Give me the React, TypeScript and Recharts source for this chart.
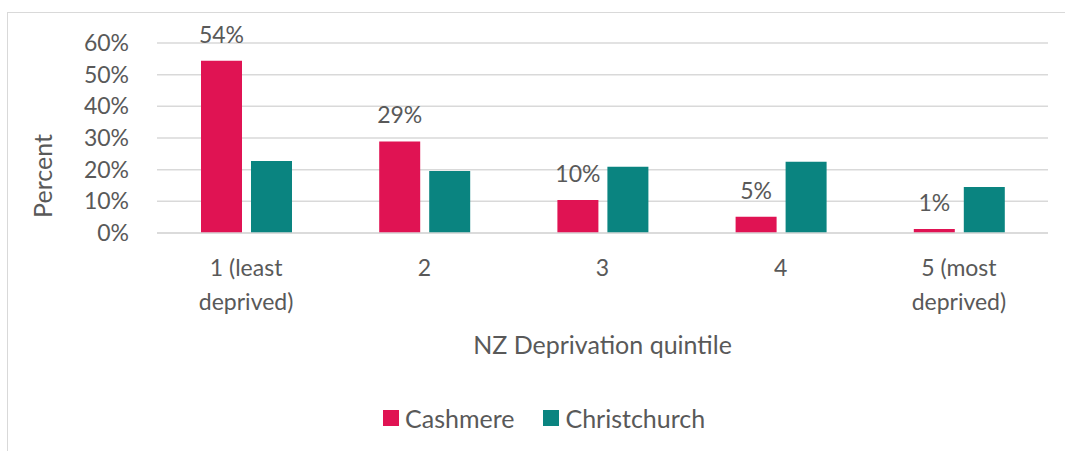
import { BarChart, Bar, XAxis, YAxis, CartesianGrid, Legend, LabelList } from 'recharts';

const quintiles = ['1 (least\ndeprived)', '2', '3', '4', '5 (most\ndeprived)'];
const cashmere = [54.4, 28.9, 10.4, 5.1, 1.3];
const christchurch = [22.7, 19.6, 20.9, 22.5, 14.5];
const yTicks = [0, 10, 20, 30, 40, 50, 60];

const seriesNames = { cashmere: 'Cashmere', christchurch: 'Christchurch' };
const colors = { cashmere: '#E01353', christchurch: '#0A8480' };

const FONT = 'Lato, "Open Sans", sans-serif';
const TEXT = '#595959';

const chartData = quintiles.map((q, i) => ({
  quintile: q,
  cashmere: cashmere[i],
  christchurch: christchurch[i],
}));

function QuintileTick(props: any) {
  const { x, y, payload } = props;
  const lines = String(payload.value).split('\n');
  return (
    <text x={x} y={y} textAnchor="middle" fill={TEXT} fontSize={23} fontFamily={FONT}>
      {lines.map((l, i) => (
        <tspan key={i} x={x} dy={i === 0 ? 43 : 34}>{l}</tspan>
      ))}
    </text>
  );
}

function LegendBox() {
  const items = [
    { name: seriesNames.cashmere, color: colors.cashmere },
    { name: seriesNames.christchurch, color: colors.christchurch },
  ];
  return (
    <div style={{ display: 'flex', alignItems: 'center', fontFamily: FONT, fontSize: 25, color: TEXT }}>
      {items.map((it, i) => (
        <div key={it.name} style={{ display: 'flex', alignItems: 'center', marginRight: i === 0 ? 29 : 0 }}>
          <span style={{ width: 16, height: 16, background: it.color, marginRight: 6, display: 'inline-block' }} />
          <span>{it.name}</span>
        </div>
      ))}
    </div>
  );
}

export default function App() {
  return (
    <div style={{ position: 'fixed', left: 0, top: 0, width: 1065, height: 451, overflow: 'hidden', background: '#fff' }}>
      <div style={{ position: 'absolute', left: 7, top: 12, width: 1200, height: 600, border: '1.5px solid #d9d9d9' }} />
      <div style={{ position: 'absolute', left: 0, top: 0 }}>
        <BarChart
          width={1065}
          height={451}
          data={chartData}
          margin={{ top: 43, right: 17, left: 0, bottom: 0 }}
          barSize={41}
          barGap={9}
        >
          <CartesianGrid vertical={false} stroke="#d9d9d9" strokeWidth={1.5} />
          <XAxis
            dataKey="quintile"
            height={218}
            interval={0}
            tickLine={false}
            tickSize={0}
            tickMargin={0}
            axisLine={{ stroke: '#d9d9d9', strokeWidth: 1.5 }}
            tick={<QuintileTick />}
            label={({ viewBox }: any) => (
              <text
                x={viewBox.x + viewBox.width / 2}
                y={viewBox.y + 121}
                textAnchor="middle"
                fill={TEXT}
                fontSize={25}
                fontFamily={FONT}
              >
                NZ Deprivation quintile
              </text>
            )}
          />
          <YAxis
            width={157}
            domain={[0, 60]}
            ticks={yTicks}
            tickFormatter={(v: number) => `${v}%`}
            axisLine={false}
            tickLine={false}
            tickSize={0}
            tickMargin={28}
            tick={{ fill: TEXT, fontSize: 23, fontFamily: FONT }}
            label={() => (
              <text
                x={0}
                y={0}
                transform="translate(52 176) rotate(-90)"
                textAnchor="middle"
                fill={TEXT}
                fontSize={25}
                fontFamily={FONT}
              >
                Percent
              </text>
            )}
          />
          <Legend
            verticalAlign="middle"
            align="center"
            content={<LegendBox />}
            wrapperStyle={{ top: 403, left: 383, width: 'auto' }}
          />
          <Bar dataKey="cashmere" name={seriesNames.cashmere} fill={colors.cashmere} isAnimationActive={false}>
            <LabelList
              dataKey="cashmere"
              position="top"
              offset={18}
              formatter={(v: any) => `${Math.round(Number(v))}%`}
              fill={TEXT}
              fontSize={23}
              fontFamily={FONT}
            />
          </Bar>
          <Bar dataKey="christchurch" name={seriesNames.christchurch} fill={colors.christchurch} isAnimationActive={false} />
        </BarChart>
      </div>
    </div>
  );
}
